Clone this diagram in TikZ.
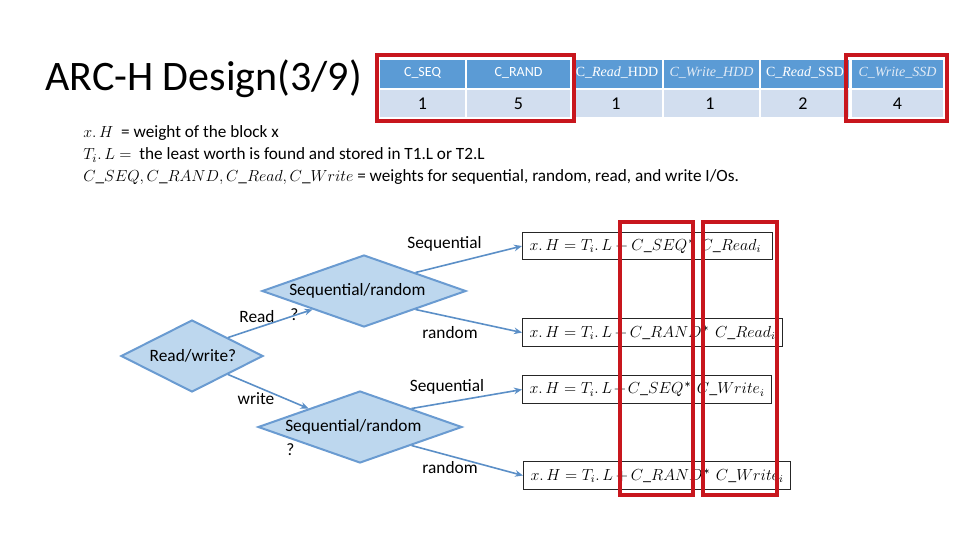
\documentclass[tikz,border=0pt]{standalone}
\usepackage{fontspec}
\setmainfont{Carlito}
\newfontfamily\serifx{Liberation Serif}
\usetikzlibrary{shapes.geometric,arrows.meta}
\definecolor{hdr}{HTML}{5B9BD5}
\definecolor{rowc}{HTML}{D2DEEF}
\definecolor{dfill}{HTML}{BDD7EE}
\definecolor{dline}{HTML}{6A9BD1}
\definecolor{arr}{HTML}{5B8FC7}
\definecolor{redb}{RGB}{200,22,29}
\definecolor{fade}{HTML}{E2EBF6}
\newcommand{\astx}{\mbox{*}}
\begin{document}
\begin{tikzpicture}[x=0.75pt,y=-0.75pt,
  dia/.style={diamond,draw=dline,fill=dfill,line width=1.5pt,inner sep=0pt},
  lbl/.style={inner sep=0pt,font=\fontsize{13}{15}\selectfont},
  legend/.style={inner sep=0pt,anchor=west,font=\fontsize{12.9}{15}\selectfont},
  fbox/.style={draw=black!85,line width=0.8pt,inner xsep=5.25pt,inner ysep=0pt,
    anchor=north west,align=left,font=\fontsize{12}{14}\selectfont},
  conn/.style={draw=arr,line width=1.2pt,-{Stealth[length=6pt,width=5pt]}},
  redbox/.style={draw=redb,line width=2.3pt},
  htext/.style={inner sep=0pt,text=white,font=\fontsize{10.5}{12}\selectfont},
  vtext/.style={inner sep=0pt,font=\fontsize{13.5}{15}\selectfont}]
\useasboundingbox (0,0) rectangle (960,540);

% title
\node[inner sep=0pt,anchor=base west,font=\fontsize{31.5}{36}\selectfont] (title) at (45,90) {ARC-H Design(3/9)};

% table
\fill[hdr] (380,60) rectangle (465,88);
\fill[hdr] (467,60) rectangle (570,88);
\fill[hdr] (572,60) rectangle (662,88);
\fill[hdr] (664,60) rectangle (759,88);
\fill[hdr] (761,60) rectangle (849,88);
\fill[hdr] (852,60) rectangle (943,88);
\fill[rowc] (380,90) rectangle (465,117);
\fill[rowc] (467,90) rectangle (570,117);
\fill[rowc] (572,90) rectangle (662,117);
\fill[rowc] (664,90) rectangle (759,117);
\fill[rowc] (761,90) rectangle (849,117);
\fill[rowc] (852,90) rectangle (943,117);
\node[htext] (h1) at (422.5,73) {C\_SEQ};
\node[htext] (h2) at (518.5,73) {C\_RAND};
\node[htext] (h3) at (617,73) {\serifx C\_\textit{Read}\_HDD};
\node[htext,text=fade] (h4) at (711.5,73) {\serifx\itshape C\_Write\_HDD};
\node[htext] (h5) at (805,73) {\serifx C\_\textit{Read}\_SSD};
\node[htext,text=fade] (h6) at (897.5,73) {\serifx\itshape C\_Write\_SSD};
\node[vtext] (v1) at (422.5,104) {1};
\node[vtext] (v2) at (518.5,104) {5};
\node[vtext] (v3) at (616,104) {1};
\node[vtext] (v4) at (710,104) {1};
\node[vtext] (v5) at (803,104) {2};
\node[vtext] (v6) at (897.5,104) {4};
\draw[redbox] (377,55) rectangle (574,121);
\draw[redbox] (846,55) rectangle (947,121);

% legend
\node[legend] (lg1) at (83,133) {$x.\,H$\ \ = weight of the block x};
\node[legend] (lg2) at (83,155) {$T_i.\,L =$\ \ the least worth is found and stored in T1.L or T2.L};
\node[legend] (lg3) at (83,177) {$C\_SEQ, C\_RAND, C\_Read, C\_Write$ = weights for sequential, random, read, and write I/Os.};

% diamonds
\node[dia,minimum width=106.5pt,minimum height=54pt] (rw) at (192,356) {};
\node[dia,minimum width=153pt,minimum height=54pt] (up) at (364,291) {};
\node[dia,minimum width=153pt,minimum height=54pt] (lo) at (360,427) {};
\node[lbl] (rwt) at (193,356) {Read/write?};
\node[lbl,anchor=west] (upt) at (289,291) {Sequential/random};
\node[lbl,anchor=west] (upq) at (290,315) {?};
\node[lbl,anchor=west] (lot) at (285,427) {Sequential/random};
\node[lbl,anchor=west] (loq) at (286,450) {?};

% formula boxes
\node[fbox,text width=177pt,minimum height=20.25pt] (f1) at (522,232) {$x.\,H = T_i.\,L + C\_SEQ\astx\ C\_Read_i$};
\node[fbox,text width=184.5pt,minimum height=21pt] (f2) at (522,318) {$x.\,H = T_i.\,L + C\_RAND\astx\ C\_Read_i$};
\node[fbox,text width=176.25pt,minimum height=21pt] (f3) at (522,375) {$x.\,H = T_i.\,L + C\_SEQ\astx\ C\_Write_i$};
\node[fbox,text width=189.75pt,minimum height=21pt] (f4) at (523,461) {$x.\,H = T_i.\,L + C\_RAND\astx\ C\_Write_i$};

% connectors
\draw[conn] (rw.north east) -- (up.south west);
\draw[conn] (rw.south east) -- (lo.north west);
\draw[conn] (up.north east) -- (f1.west);
\draw[conn] (up.south east) -- (f2.west);
\draw[conn] (lo.north east) -- (f3.west);
\draw[conn] (lo.south east) -- (f4.west);

% edge labels
\node[lbl] (lr) at (257,317) {Read};
\node[lbl] (lw) at (256,399) {write};
\node[lbl] (ls1) at (444.5,244) {Sequential};
\node[lbl] (lr1) at (450,333) {random};
\node[lbl] (ls2) at (447,387) {Sequential};
\node[lbl] (lr2) at (450,468) {random};

% red highlight boxes
\draw[redbox] (620,222) rectangle (693,495);
\draw[redbox] (703,222) rectangle (777,495);
\end{tikzpicture}
\end{document}
